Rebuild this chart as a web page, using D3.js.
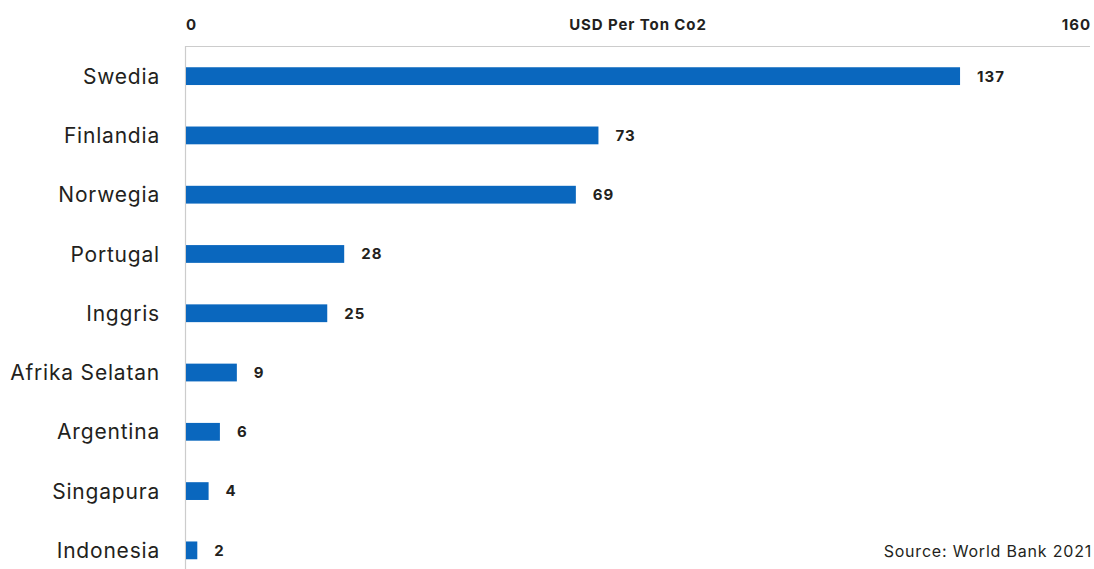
<!DOCTYPE html>
<html lang="id">
<head>
<meta charset="UTF-8">
<title>Pajak Karbon</title>
<script src="https://d3js.org/d3.v7.min.js"></script>
<style>
  body { margin: 0; background: #fff; }
  svg { font-family: Inter, "Noto Sans", sans-serif; }
</style>
</head>
<body>
<svg width="1094" height="569"></svg>
<script>
const countries = ["Swedia", "Finlandia", "Norwegia", "Portugal", "Inggris", "Afrika Selatan", "Argentina", "Singapura", "Indonesia"];
const prices = [137, 73, 69, 28, 25, 9, 6, 4, 2];
const axisTicks = [0, 160];
const axisTitle = "USD Per Ton Co2";
const source = "Source: World Bank 2021";

const width = 1094, height = 569;
const svg = d3.select("svg");

const x = d3.scaleLinear().domain([0, 160]).range([186, 1090]);
const y = d3.scaleBand().domain(countries).range([46.5, 580]).paddingInner(0.7).paddingOuter(0.35);

const textColor = "#231f20";
const gridColor = "#cccccc";

// top axis line and left axis line
svg.append("line")
    .attr("x1", x(0) - 1).attr("x2", x(160))
    .attr("y1", 46.5).attr("y2", 46.5)
    .attr("stroke", gridColor).attr("stroke-width", 1.2);
svg.append("line")
    .attr("x1", x(0) - 0.5).attr("x2", x(0) - 0.5)
    .attr("y1", 46).attr("y2", height)
    .attr("stroke", gridColor).attr("stroke-width", 1.2);

// tick labels
svg.selectAll(".tick-label")
    .data(axisTicks)
    .join("text")
    .attr("x", (d, i) => i === 0 ? x(d) : x(d) + 1)
    .attr("y", 30)
    .attr("text-anchor", (d, i) => i === 0 ? "start" : "end")
    .attr("font-size", 15)
    .attr("font-weight", 700)
    .attr("letter-spacing", 1)
    .attr("fill", textColor)
    .text(d => d);

svg.append("text")
    .attr("x", x(80))
    .attr("y", 30)
    .attr("text-anchor", "middle")
    .attr("font-size", 15)
    .attr("font-weight", 700)
    .attr("letter-spacing", 0.9)
    .attr("fill", textColor)
    .text(axisTitle);

// bars
const rows = countries.map((c, i) => ({ name: c, value: prices[i] }));

svg.selectAll(".bar")
    .data(rows)
    .join("rect")
    .attr("x", x(0))
    .attr("y", d => y(d.name))
    .attr("width", d => x(d.value) - x(0))
    .attr("height", y.bandwidth())
    .attr("fill", "#0a67be");

// value labels
svg.selectAll(".value")
    .data(rows)
    .join("text")
    .attr("x", d => x(d.value) + 17)
    .attr("y", d => y(d.name) + y.bandwidth() / 2)
    .attr("dy", "0.36em")
    .attr("font-size", 15)
    .attr("font-weight", 700)
    .attr("letter-spacing", 1)
    .attr("fill", textColor)
    .text(d => d.value);

// category labels
svg.selectAll(".cat")
    .data(rows)
    .join("text")
    .attr("x", 160)
    .attr("y", d => y(d.name) + y.bandwidth() / 2)
    .attr("dy", "0.36em")
    .attr("text-anchor", "end")
    .attr("font-size", 21)
    .attr("letter-spacing", 0.8)
    .attr("fill", textColor)
    .text(d => d.name);

// source
svg.append("text")
    .attr("x", 1092)
    .attr("y", 557)
    .attr("text-anchor", "end")
    .attr("font-size", 16)
    .attr("letter-spacing", 0.8)
    .attr("fill", textColor)
    .text(source);
</script>
</body>
</html>
